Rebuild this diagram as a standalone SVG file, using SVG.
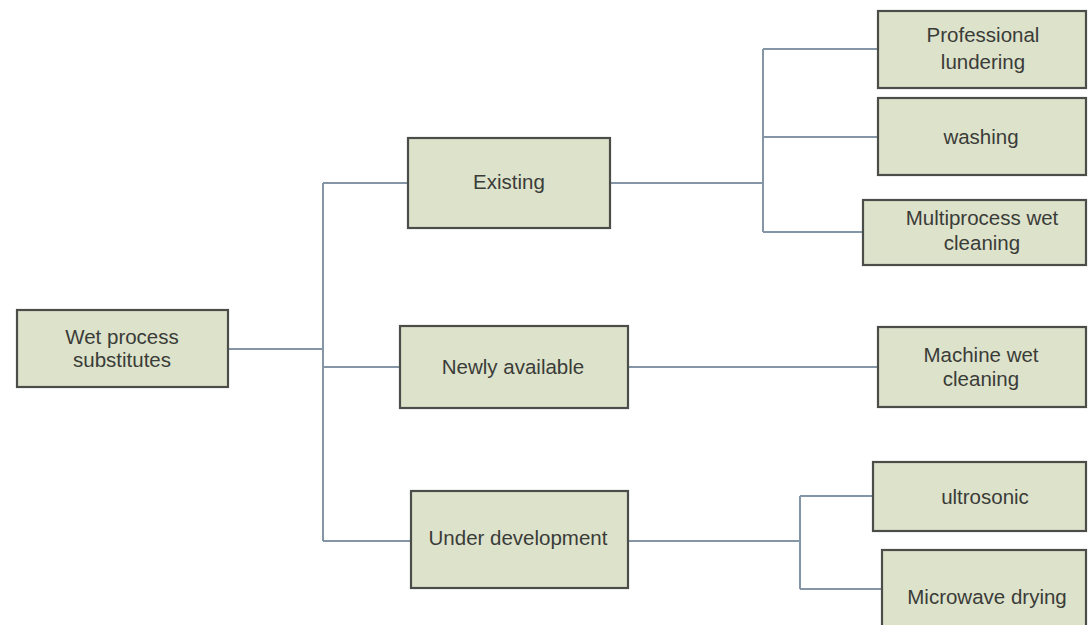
<svg xmlns="http://www.w3.org/2000/svg" width="1088" height="625" viewBox="0 0 1088 625">
  <style>
    .box { fill: #dde2cb; stroke: #4b4d48; stroke-width: 2.2; }
    .lbl { font-family: "Liberation Sans", Arial, sans-serif; font-size: 20.5px; fill: #3a3c38; text-anchor: middle; }
    .wire { fill: none; stroke: #8496a6; stroke-width: 2; }
  </style>
  <rect width="1088" height="625" fill="#ffffff"/>

  <!-- connectors -->
  <g id="connectors" class="wire">
    <path d="M228 349 H323"/>
    <path d="M323 183 V541"/>
    <path d="M323 183 H408"/>
    <path d="M323 367 H400"/>
    <path d="M323 541 H411"/>
    <path d="M610 183 H763"/>
    <path d="M763 49 V232"/>
    <path d="M763 49 H878"/>
    <path d="M763 137 H878"/>
    <path d="M763 232 H863"/>
    <path d="M628 367 H878"/>
    <path d="M628 541 H800"/>
    <path d="M800 496 V589"/>
    <path d="M800 496 H873"/>
    <path d="M800 589 H882"/>
  </g>

  <g id="root">
    <rect class="box" x="17" y="310" width="211" height="77"/>
    <text class="lbl" x="122" y="344">Wet process</text>
    <text class="lbl" x="122" y="367">substitutes</text>
  </g>

  <g id="existing">
    <rect class="box" x="408" y="138" width="202" height="90"/>
    <text class="lbl" x="509" y="189">Existing</text>
  </g>

  <g id="newly-available">
    <rect class="box" x="400" y="326" width="228" height="82"/>
    <text class="lbl" x="513" y="374">Newly available</text>
  </g>

  <g id="under-development">
    <rect class="box" x="411" y="491" width="217" height="97"/>
    <text class="lbl" x="518" y="545">Under development</text>
  </g>

  <g id="professional-lundering">
    <rect class="box" x="878" y="11" width="208" height="77"/>
    <text class="lbl" x="983" y="42">Professional</text>
    <text class="lbl" x="983" y="69">lundering</text>
  </g>

  <g id="washing">
    <rect class="box" x="878" y="98" width="208" height="77"/>
    <text class="lbl" x="981" y="144">washing</text>
  </g>

  <g id="multiprocess">
    <rect class="box" x="863" y="200" width="223" height="65"/>
    <text class="lbl" x="982" y="225">Multiprocess wet</text>
    <text class="lbl" x="982" y="250">cleaning</text>
  </g>

  <g id="machine-wet-cleaning">
    <rect class="box" x="878" y="327" width="208" height="80"/>
    <text class="lbl" x="981" y="362">Machine wet</text>
    <text class="lbl" x="981" y="386">cleaning</text>
  </g>

  <g id="ultrosonic">
    <rect class="box" x="873" y="462" width="213" height="69"/>
    <text class="lbl" x="985" y="504">ultrosonic</text>
  </g>

  <g id="microwave-drying">
    <rect class="box" x="882" y="550" width="204" height="90"/>
    <text class="lbl" x="987" y="604">Microwave drying</text>
  </g>
</svg>
